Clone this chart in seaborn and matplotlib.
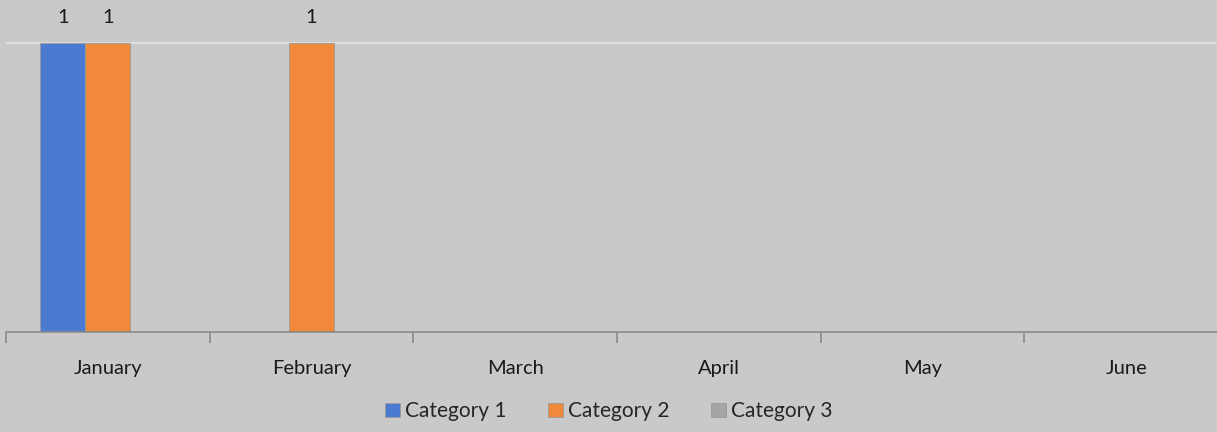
import numpy as np
import pandas as pd
import matplotlib.pyplot as plt
import seaborn as sns

# ── Data ──────────────────────────────────────────────────────────────────────
months = ["January", "February", "March", "April", "May", "June"]
series = ["Category 1", "Category 2", "Category 3"]
cat1 = [1, np.nan, np.nan, np.nan, np.nan, np.nan]
cat2 = [1, 1, np.nan, np.nan, np.nan, np.nan]
cat3 = [np.nan, np.nan, np.nan, np.nan, np.nan, np.nan]

colors = ["#4a7bd0", "#f08a3a", "#a5a5a5"]
bg = "#c9c9c9"

df = pd.DataFrame({
    "month": months * 3,
    "series": [s for s in series for _ in months],
    "value": cat1 + cat2 + cat3,
})

sns.set_theme(style="white")
plt.rcParams["font.family"] = ["Lato", "DejaVu Sans"]
fs = 14.5

fig = plt.figure(figsize=(12.17, 4.32), dpi=100, facecolor=bg)
ax = fig.add_axes([6 / 1217, 100 / 432, 1222 / 1217, 332 / 432])
ax.set_facecolor(bg)

sns.barplot(data=df, x="month", y="value", hue="series", order=months,
            hue_order=series, palette=colors, saturation=1, width=0.663,
            gap=0, errorbar=None, ax=ax, legend=True)

for patch in ax.patches:
    patch.set_edgecolor("#9a9a9a")
    patch.set_linewidth(0.6)

# data labels for existing values only
for cont in ax.containers:
    labels = ["" if np.isnan(v) else f"{v:.0f}" for v in cont.datavalues]
    ax.bar_label(cont, labels=labels, padding=12, fontsize=fs, color="#1a1a1a")

ax.set_xlim(-0.5, 5.5)
ax.set_ylim(0, 1.149)
ax.axhline(1, color="#dedede", linewidth=1.5, zorder=0)
ax.set_yticks([])
ax.set_xlabel("")
ax.set_ylabel("")
for side in ["top", "right", "left"]:
    ax.spines[side].set_visible(False)
ax.spines["bottom"].set_color("#8a8a8a")
ax.spines["bottom"].set_linewidth(1.2)

ax.set_xticks(range(len(months)))
ax.set_xticklabels(months, fontsize=fs, color="#1a1a1a")
ax.tick_params(axis="x", which="major", length=0, pad=20)
ax.set_xticks(np.arange(-0.5, 6, 1), minor=True)
ax.tick_params(axis="x", which="minor", length=8, color="#8a8a8a", width=1.2,
               direction="out", bottom=True)

leg = ax.legend(loc="lower center", bbox_to_anchor=(603 / 1222, -0.325),
                ncol=3, frameon=False, fontsize=15, handlelength=0.7,
                handleheight=0.7, handletextpad=0.25, columnspacing=2.0)

fig.savefig("out.png", dpi=100, facecolor=bg)
